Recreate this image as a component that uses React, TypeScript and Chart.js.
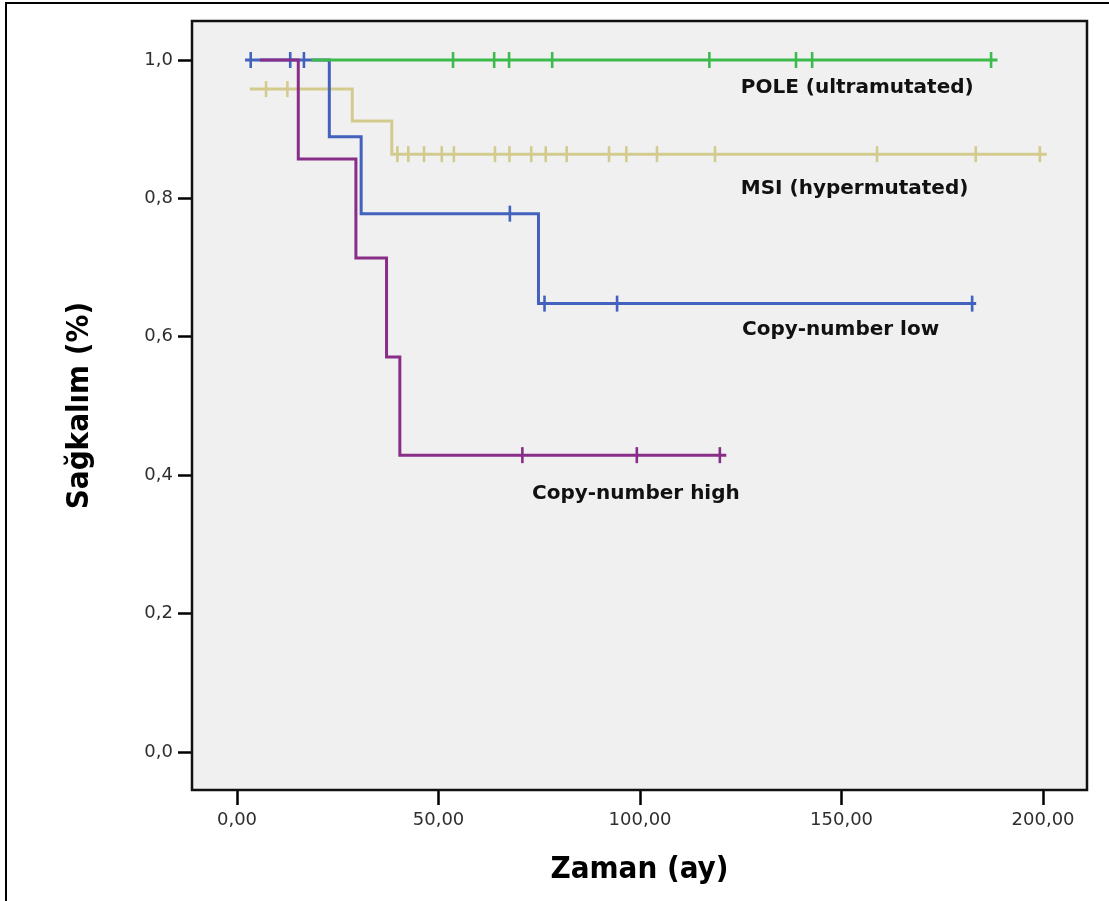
import React, { useEffect, useRef } from 'react';
import { Chart, registerables } from 'chart.js';

Chart.register(...registerables);

// ---- Axis ticks ----
const xTicks = [0, 50, 100, 150, 200];
const yTicks = [0, 0.2, 0.4, 0.6, 0.8, 1.0];

// ---- Series names / labels ----
const seriesNames = ['POLE (ultramutated)', 'MSI (hypermutated)', 'Copy-number low', 'Copy-number high'];
const seriesColors = ['#3cba4b', '#d3cb8e', '#4262be', '#882d88'];

// ---- Kaplan-Meier step data (time in months, survival) ----
const poleTimes = [18.5, 188.7];
const poleSurv = [1, 1];
const poleCensor = [53.6, 63.8, 67.5, 78.2, 117.2, 138.7, 142.7, 187.1];

const msiTimes = [3.2, 28.6, 38.4, 200.9];
const msiSurv = [0.958, 0.912, 0.864, 0.864];
const msiCensor = [7.2, 12.5, 39.8, 42.5, 46.4, 50.8, 53.8, 64, 67.6, 73, 76.6, 81.8, 92.3, 96.6, 104.2, 118.6, 158.8, 183.3, 199.2];

const cnLowTimes = [2, 22.9, 30.8, 74.8, 183.4];
const cnLowSurv = [1, 0.889, 0.778, 0.648, 0.648];
const cnLowCensor = [3.4, 13.2, 16.6, 67.7, 76.3, 94.3, 182.4];

const cnHighTimes = [5.7, 15.2, 29.5, 37.1, 40.4, 121.4];
const cnHighSurv = [1, 0.857, 0.714, 0.571, 0.429, 0.429];
const cnHighCensor = [70.8, 99.2, 119.8];

// ---- Label anchors (data coordinates: time, survival) ----
const labelTimes = [125.0, 125.0, 125.3, 73.2];
const labelSurv = [0.9595, 0.8136, 0.6098, 0.3728];

const series = [
  { times: poleTimes, surv: poleSurv, censor: poleCensor },
  { times: msiTimes, surv: msiSurv, censor: msiCensor },
  { times: cnLowTimes, surv: cnLowSurv, censor: cnLowCensor },
  { times: cnHighTimes, surv: cnHighSurv, censor: cnHighCensor },
];
// drawing order (lower = on top)
const drawOrder = [0, 3, 2, 1];

const toPoints = (times: number[], surv: number[]) => times.map((t, i) => ({ x: t, y: surv[i] }));
const survAt = (times: number[], surv: number[], t: number) => {
  let v = surv[0];
  for (let i = 0; i < times.length; i++) if (times[i] <= t) v = surv[i];
  return v;
};

const titleFamily = '"DejaVu Sans Condensed", "Liberation Sans Narrow", "DejaVu Sans", sans-serif';
const tickFamily = '"DejaVu Sans", sans-serif';

const framePlugin = {
  id: 'kmFrame',
  beforeDraw(chart: any) {
    const { ctx, width, height } = chart;
    ctx.save();
    ctx.fillStyle = '#ffffff';
    ctx.fillRect(0, 0, width, height);
    ctx.strokeStyle = '#000';
    ctx.lineWidth = 2;
    ctx.beginPath();
    ctx.moveTo(6, height + 4);
    ctx.lineTo(6, 3);
    ctx.lineTo(width + 4, 3);
    ctx.stroke();
    ctx.restore();
  },
  beforeDatasetsDraw(chart: any) {
    const { ctx, chartArea: a } = chart;
    ctx.save();
    ctx.fillStyle = '#f0f0f0';
    ctx.fillRect(a.left, a.top, a.right - a.left, a.bottom - a.top);
    ctx.strokeStyle = '#111';
    ctx.lineWidth = 2.5;
    ctx.strokeRect(a.left, a.top, a.right - a.left, a.bottom - a.top);
    ctx.restore();
  },
  afterDatasetsDraw(chart: any) {
    const { ctx, scales } = chart;
    ctx.save();
    ctx.font = 'bold 20px "DejaVu Sans", sans-serif';
    ctx.fillStyle = '#111';
    ctx.textAlign = 'left';
    ctx.textBaseline = 'middle';
    seriesNames.forEach((name, i) => {
      ctx.fillText(name, scales.x.getPixelForValue(labelTimes[i]), scales.y.getPixelForValue(labelSurv[i]));
    });
    ctx.restore();
  },
};

export default function App() {
  const ref = useRef<HTMLCanvasElement>(null);

  useEffect(() => {
    const datasets: any[] = [];
    series.forEach((s, i) => {
      datasets.push({
        type: 'line',
        label: seriesNames[i],
        data: toPoints(s.times, s.surv),
        borderColor: seriesColors[i],
        borderWidth: 3,
        stepped: true,
        pointRadius: 0,
        fill: false,
        order: drawOrder[i],
      });
      datasets.push({
        type: 'scatter',
        label: seriesNames[i] + ' censored',
        data: s.censor.map((t) => ({ x: t, y: survAt(s.times, s.surv, t) })),
        pointStyle: 'line',
        rotation: 90,
        radius: 8,
        borderColor: seriesColors[i],
        backgroundColor: seriesColors[i],
        borderWidth: 2.6,
        showLine: false,
        order: drawOrder[i],
      });
    });

    const chart = new Chart(ref.current as HTMLCanvasElement, {
      type: 'scatter',
      data: { datasets },
      plugins: [framePlugin],
      options: {
        responsive: false,
        animation: false,
        events: [],
        layout: { padding: { left: 40, right: 22, top: 21, bottom: 0 } },
        plugins: { legend: { display: false }, tooltip: { enabled: false } },
        scales: {
          x: {
            type: 'linear',
            min: -11.17,
            max: 210.9,
            afterBuildTicks: (s: any) => {
              s.ticks = xTicks.map((v) => ({ value: v }));
            },
            afterFit: (s: any) => {
              s.height = 111;
            },
            ticks: {
              callback: (v: any) => Number(v).toFixed(2).replace('.', ','),
              font: { family: tickFamily, size: 18 },
              color: '#2e2e2e',
              padding: 5,
              maxRotation: 0,
              autoSkip: false,
            },
            grid: { drawOnChartArea: false, drawTicks: true, tickLength: 15, tickColor: '#000', tickWidth: 2.5 },
            border: { display: false },
            title: {
              display: true,
              text: 'Zaman (ay)',
              color: '#000',
              font: { family: titleFamily, size: 31, weight: 'bold' },
              padding: { top: 0, bottom: 12.4 },
            },
          },
          y: {
            type: 'linear',
            min: -0.0549,
            max: 1.0564,
            afterBuildTicks: (s: any) => {
              s.ticks = yTicks.map((v) => ({ value: v }));
            },
            afterFit: (s: any) => {
              s.width = 152;
            },
            ticks: {
              callback: (v: any) => Number(v).toFixed(1).replace('.', ','),
              font: { family: tickFamily, size: 18 },
              color: '#2e2e2e',
              padding: 5,
              autoSkip: false,
            },
            grid: { drawOnChartArea: false, drawTicks: true, tickLength: 14, tickColor: '#000', tickWidth: 2.5 },
            border: { display: false },
            title: {
              display: true,
              text: 'Sağkalım (%)',
              color: '#000',
              font: { family: titleFamily, size: 31, weight: 'bold' },
              padding: { top: 21.4, bottom: 0 },
            },
          },
        },
      } as any,
    });
    return () => chart.destroy();
  }, []);

  return (
    <div style={{ position: 'absolute', left: 0, top: 0, width: 1109, height: 901 }}>
      <canvas ref={ref} width={1109} height={901} style={{ display: 'block', width: 1109, height: 901 }} />
    </div>
  );
}
